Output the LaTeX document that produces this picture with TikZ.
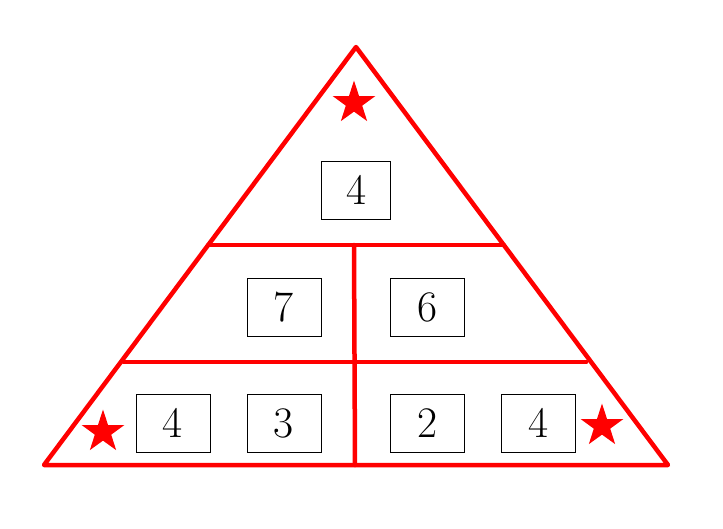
\documentclass[tikz,border=0pt]{standalone}
\usepackage{tikz}
\usetikzlibrary{positioning}
\usetikzlibrary{shapes}
\usetikzlibrary{calc}

\tikzset{
  edge/.style={draw=red,line width=3.2pt,line cap=round,line join=round},
  numbox/.style={draw,thin,minimum width=1.85cm,minimum height=1.45cm,inner sep=0pt,font=\fontsize{31}{36}\selectfont},
  redstar/.style={star,star points=5,star point ratio=2.6,fill=red,draw=none,minimum size=1.12cm,inner sep=0pt}
}

\begin{document}
\begin{tikzpicture}[x=0.025cm,y=-0.025cm]
  \useasboundingbox (0,0) rectangle (723,528);
  % Place corners
  \coordinate (apex) at (356,47);
  \coordinate (bl) at (44,465);
  \coordinate (br) at (668,465);
  \coordinate (l1) at ($(apex)!0.4737!(bl)$);
  \coordinate (r1) at ($(apex)!0.4737!(br)$);
  \coordinate (l2) at ($(apex)!0.7536!(bl)+(3,0)$);
  \coordinate (r2) at ($(apex)!0.7536!(br)+(-5,0)$);
  \coordinate (vtop) at (354,245);
  \coordinate (vbot) at (355,465);

  % Lines
  \draw[edge] (bl) -- (apex) -- (br) -- cycle;
  \draw[edge] (l1) -- (r1);
  \draw[edge] (l2) -- (r2);
  \draw[edge] (vtop) -- (vbot);

  % Stars
  \node[redstar] (stop) at (354,103) {};
  \node[redstar] (sleft) at (103,432) {};
  \node[redstar] (sright) at (602,426) {};

  % Boxes
  \node[numbox,minimum width=1.72cm] (top) at (356,190) {4};
  \node[numbox] (mleft) at (284,307) {7};
  \node[numbox] (mright) at (427,307) {6};
  \node[numbox] (b1) at (173,423) {4};
  \node[numbox] (b2) at (284,423) {3};
  \node[numbox] (b3) at (427,423) {2};
  \node[numbox] (b4) at (538,423) {4};
\end{tikzpicture}
\end{document}
